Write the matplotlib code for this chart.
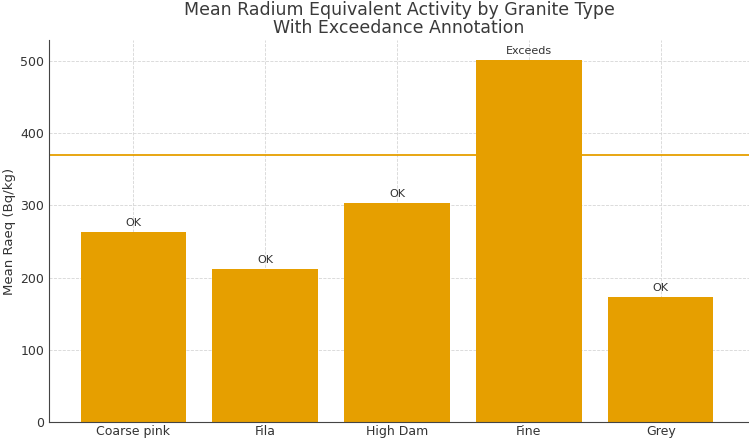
import matplotlib
matplotlib.use("Agg")
import matplotlib.pyplot as plt

granite_types = ["Coarse pink", "Fila", "High Dam", "Fine", "Grey"]
mean_raeq = [263, 212, 303, 501, 173]
raeq_limit = 370
status = ["Exceeds" if v > raeq_limit else "OK" for v in mean_raeq]

bar_color = "#E69F00"
text_color = "#333333"

fig = plt.figure(figsize=(7.49, 4.42), dpi=100)
ax = fig.add_axes([0.0654, 0.0452, 0.9346, 0.8643])

x = range(len(granite_types))
bars = ax.bar(x, mean_raeq, width=0.8, color=bar_color, zorder=2)
ax.axhline(raeq_limit, color=bar_color, linewidth=1.3, zorder=1)

for b, s in zip(bars, status):
    ax.text(b.get_x() + b.get_width() / 2, b.get_height() + 6, s,
            ha="center", va="bottom", fontsize=8, color=text_color)

ax.set_xticks(list(x))
ax.set_xticklabels(granite_types)
ax.set_xlim(-0.64, 4.67)
ax.set_ylim(0, 529)
ax.set_yticks([0, 100, 200, 300, 400, 500])
ax.set_ylabel("Mean Raeq (Bq/kg)", fontsize=9.5, color=text_color, labelpad=3)
ax.set_title("Mean Radium Equivalent Activity by Granite Type\nWith Exceedance Annotation",
             fontsize=12.5, color="#3a3a3a", linespacing=1.0, pad=5)

ax.grid(True, linestyle="--", color="#d6d6d6", linewidth=0.6, zorder=0)
ax.set_axisbelow(True)
for side in ["top", "right"]:
    ax.spines[side].set_visible(False)
for side in ["left", "bottom"]:
    ax.spines[side].set_color("#444444")
ax.tick_params(colors=text_color, labelsize=9, length=0, pad=3.5)
ax.tick_params(axis="x", direction="in", length=3, color="#888888", pad=2.5)

fig.savefig("out.png", dpi=100)
